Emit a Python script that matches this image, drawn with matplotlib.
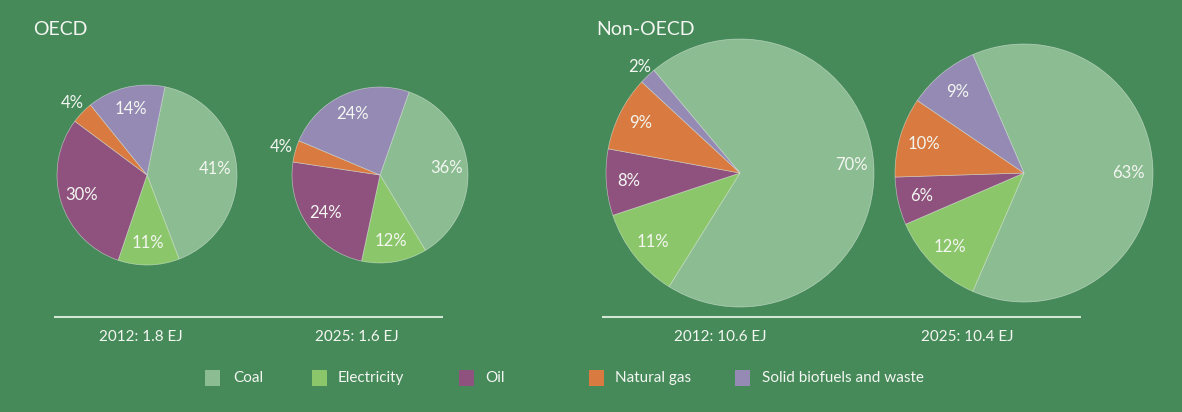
import matplotlib
matplotlib.use("Agg")
import matplotlib.pyplot as plt
from matplotlib.patches import Rectangle
import math

# ---- data ----
categories = ["Coal", "Electricity", "Oil", "Natural gas", "Solid biofuels and waste"]
oecd_2012 = [41, 11, 30, 4, 14]
oecd_2025 = [36, 12, 24, 4, 24]
nonoecd_2012 = [70, 11, 8, 9, 2]
nonoecd_2025 = [63, 12, 6, 10, 9]
group_titles = ["OECD", "Non-OECD"]
pie_captions = ["2012: 1.8 EJ", "2025: 1.6 EJ", "2012: 10.6 EJ", "2025: 10.4 EJ"]

# ---- style ----
colors = ["#8cbc91", "#8bc76a", "#8f527e", "#d97a40", "#958ab4"]
bg = "#468a5a"
txt = "#f3f6f1"
line_c = "#d3e6d3"
FONT = ["Lato", "DejaVu Sans"]

W, H = 1182, 412
fig = plt.figure(figsize=(W / 100, H / 100), dpi=100, facecolor=bg)
ax = fig.add_axes([0, 0, 1, 1])
ax.set_facecolor(bg)

series = [oecd_2012, oecd_2025, nonoecd_2012, nonoecd_2025]
# layout: centre (image px), radius, start angle, inside label distance, outside label distance
layout = [
    dict(c=(147, 175), r=90, sa=78.5, lin=0.76, lout=1.15),
    dict(c=(380, 175), r=88, sa=70.7, lin=0.76, lout=1.17),
    dict(c=(740, 173), r=134, sa=130.0, lin=0.83, lout=1.09),
    dict(c=(1024, 173), r=129, sa=113.4, lin=0.81, lout=1.12),
]
caption_x = [141, 357, 720, 967]

for vals, lay in zip(series, layout):
    cx, cy = lay["c"]
    cy = H - cy
    wedges, _ = ax.pie(vals, colors=colors, startangle=lay["sa"], counterclock=False,
                       center=(cx, cy), radius=lay["r"],
                       wedgeprops=dict(edgecolor=(0.92, 0.95, 0.92, 0.55), linewidth=0.5))
    for w, v in zip(wedges, vals):
        mid = math.radians((w.theta1 + w.theta2) / 2)
        d = lay["lout"] if v < 5 else lay["lin"]
        ax.text(cx + d * lay["r"] * math.cos(mid), cy + d * lay["r"] * math.sin(mid),
                f"{v}%", color=txt, fontsize=12, family=FONT,
                ha="center", va="center")

ax.set_xlim(0, W)
ax.set_ylim(0, H)
ax.set_aspect("equal")
ax.axis("off")

# group titles
ax.text(33, H - 29, group_titles[0], color=txt, fontsize=14, family=FONT, ha="left", va="center")
ax.text(596, H - 29, group_titles[1], color=txt, fontsize=14, family=FONT, ha="left", va="center")

# separator lines
ax.plot([54, 443], [H - 317, H - 317], color=line_c, lw=1.5, solid_capstyle="butt")
ax.plot([602, 1081], [H - 317, H - 317], color=line_c, lw=1.5, solid_capstyle="butt")

# captions
for x, cap in zip(caption_x, pie_captions):
    ax.text(x, H - 337, cap, color=txt, fontsize=11, family=FONT, ha="center", va="center")

# legend
sq_x = [205, 312, 459, 589, 735]
tx_x = [233, 338, 485, 615, 762]
for sx, tx, col, lab in zip(sq_x, tx_x, colors, categories):
    ax.add_patch(Rectangle((sx, H - 386), 15, 16, facecolor=col, edgecolor="none"))
    ax.text(tx, H - 378, lab, color=txt, fontsize=11, family=FONT, ha="left", va="center")

fig.savefig("out.png", dpi=100, facecolor=bg)
